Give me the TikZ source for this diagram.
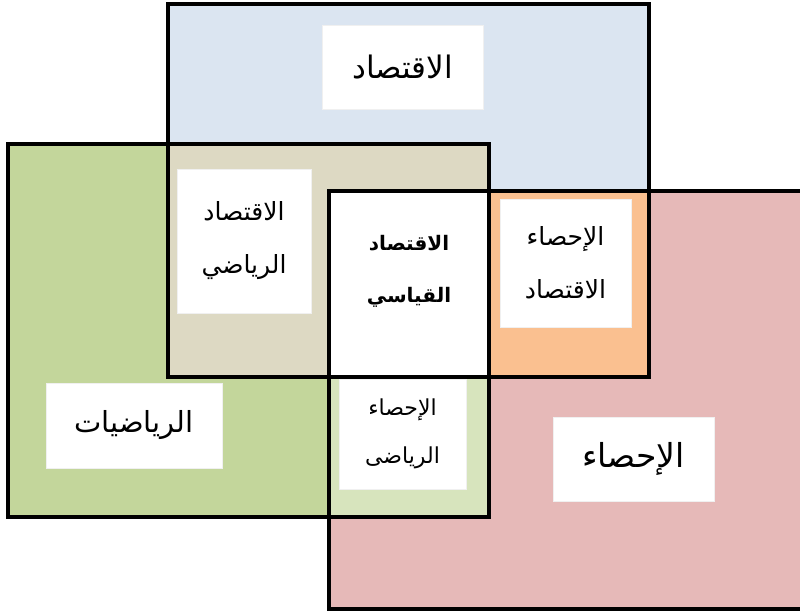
\documentclass[tikz,border=0pt]{standalone}
\usepackage{fontspec}
\newfontfamily\arabicfont[Script=Arabic]{DejaVu Sans}
\TeXXeTstate=1
\definecolor{econblue}{HTML}{DBE5F1}
\definecolor{mathgreen}{HTML}{C3D69B}
\definecolor{statpink}{HTML}{E6B9B8}
\definecolor{tanmix}{HTML}{DDD9C3}
\definecolor{orangemix}{HTML}{FAC090}
\definecolor{greenmix}{HTML}{D7E4BD}
\newcommand\econar{\arabicfont\fontsize{31}{36}\selectfont}
\newcommand\mathar{\arabicfont\fontsize{29}{34}\selectfont}
\newcommand\statar{\arabicfont\fontsize{33}{38}\selectfont}
\newcommand\midar{\arabicfont\fontsize{25}{53}\selectfont}
\newcommand\smallar{\arabicfont\fontsize{22}{48}\selectfont}
\newcommand\boldar{\arabicfont\bfseries\fontsize{20}{52}\selectfont}
\begin{document}
\begin{tikzpicture}[x=1pt,y=-1pt,
  frame/.style={draw=black,line width=4pt},
  labelbox/.style={draw=black!6,line width=0.8pt,fill=white,inner sep=0pt,align=center}]
\useasboundingbox (0,0) rectangle (800,613);
\fill[white] (0,0) rectangle (800,613);
\clip (0,0) rectangle (800,613);
% region fills
\fill[econblue] (168,4) rectangle (649,377);
\fill[mathgreen] (8,144) rectangle (489,517);
\fill[statpink] (329,191) rectangle (810,609);
\fill[tanmix] (168,144) rectangle (489,377);
\fill[orangemix] (489,191) rectangle (649,377);
\fill[greenmix] (329,377) rectangle (489,517);
\fill[white] (329,191) rectangle (489,377);
% label boxes
\node[labelbox,minimum width=161pt,minimum height=84pt,font=\econar] (econ) at (402.5,67) {\beginR الاقتصاد\endR};
\node[labelbox,minimum width=176pt,minimum height=85pt,font=\mathar] (math) at (134,425.5) {\beginR الرياضيات\endR};
\node[labelbox,minimum width=161pt,minimum height=84pt,font=\statar] (stat) at (633.5,459) {\beginR الإحصاء\endR};
\node[labelbox,minimum width=134pt,minimum height=144pt,font=\midar] (econmath) at (244,241) {\beginR الاقتصاد\endR\\\beginR الرياضي\endR};
\node[labelbox,minimum width=131pt,minimum height=128pt,font=\midar] (econstat) at (565.5,263) {\beginR الإحصاء\endR\\\beginR الاقتصاد\endR};
\node[labelbox,minimum width=127pt,minimum height=110pt,font=\smallar] (mathstat) at (402.5,434) {\beginR الإحصاء\endR\\\beginR الرياضى\endR};
\node[inner sep=0pt,align=center,font=\boldar] (econometrics) at (409,271) {\beginR الاقتصاد\endR\\\beginR القياسي\endR};
% frames
\draw[frame] (168,4) rectangle (649,377);
\draw[frame] (8,144) rectangle (489,517);
\draw[frame] (329,191) rectangle (810,609);
\end{tikzpicture}
\end{document}
